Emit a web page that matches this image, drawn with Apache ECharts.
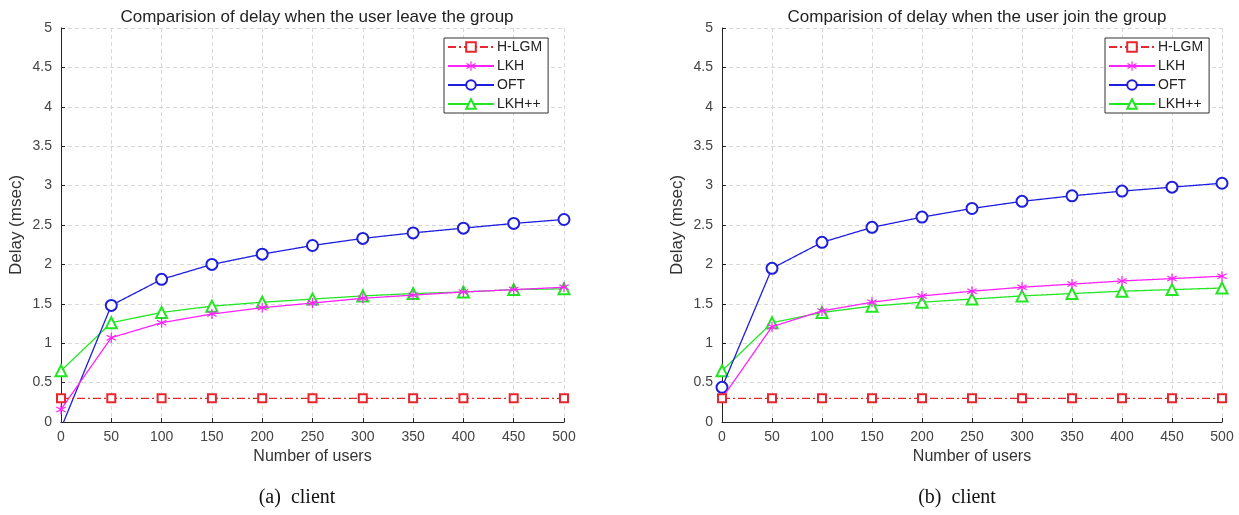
<!DOCTYPE html>
<html><head><meta charset="utf-8">
<script src="https://cdn.jsdelivr.net/npm/echarts@6/dist/echarts.min.js"></script>
<style>html,body{margin:0;padding:0;background:#fff}#c{width:1239px;height:515px}</style>
</head><body><div id="c"></div>
<script>
const users = [0,50,100,150,200,250,300,350,400,450,500];
const seriesNames = ['H-LGM','LKH','OFT','LKH++'];
// (a) user leaves the group
const leaveHLGM = [0.3,0.3,0.3,0.3,0.3,0.3,0.3,0.3,0.3,0.3,0.3];
const leaveLKH  = [0.16,1.07,1.26,1.37,1.45,1.51,1.57,1.61,1.65,1.68,1.71];
const leaveOFT  = [-0.08,1.48,1.81,2.00,2.13,2.24,2.33,2.40,2.46,2.52,2.57];
const leaveLKHpp= [0.65,1.26,1.39,1.47,1.52,1.56,1.60,1.63,1.65,1.68,1.69];
// (b) user joins the group
const joinHLGM = [0.3,0.3,0.3,0.3,0.3,0.3,0.3,0.3,0.3,0.3,0.3];
const joinLKH  = [0.30,1.21,1.41,1.52,1.60,1.66,1.71,1.75,1.79,1.82,1.85];
const joinOFT  = [0.44,1.95,2.28,2.47,2.60,2.71,2.80,2.87,2.93,2.98,3.03];
const joinLKHpp= [0.65,1.26,1.39,1.47,1.52,1.56,1.60,1.63,1.66,1.68,1.70];
const titles = ['Comparision of delay when the user leave the group','Comparision of delay when the user join the group'];
const captions = ['(a)  client','(b)  client'];
const xName = 'Number of users';
const yName = 'Delay (msec)';

const colors = ['#e8262e','#ff22ff','#1e1ee0','#22e622'];
const star = 'path://M-0.6,-5 L0.6,-5 L0.6,-1 L4.2,-3 L4.8,-2 L1.2,0 L4.8,2 L4.2,3 L0.6,1 L0.6,5 L-0.6,5 L-0.6,1 L-4.2,3 L-4.8,2 L-1.2,0 L-4.8,-2 L-4.2,-3 L-0.6,-1 Z';
const symbols = ['emptyRect', star, 'emptyCircle', 'emptyTriangle'];
const symSizes = [8, 10, 11, 11];
const lineTypes = [[8,3,2,3],[1,0],[1,0],[1,0]];
const font = 'Liberation Sans, Arial, sans-serif';

const sets = [[leaveHLGM,leaveLKH,leaveOFT,leaveLKHpp],[joinHLGM,joinLKH,joinOFT,joinLKHpp]];
const grids = [
  {left:61, right:675, top:28, bottom:93},
  {left:722, right:17, top:28, bottom:93}
];
const gridCenters = [312, 972];

const xAxis = [], yAxis = [], series = [], title = [];
grids.forEach((g,gi)=>{
  xAxis.push({type:'value', gridIndex:gi, min:0, max:500, interval:50,
    name:xName, nameLocation:'middle', nameGap:27,
    nameTextStyle:{fontFamily:font, fontSize:16, color:'#333'},
    axisLine:{show:true, onZero:false, lineStyle:{color:'#222', width:1}},
    axisTick:{show:true, inside:true, length:4, lineStyle:{color:'#222'}},
    axisLabel:{fontFamily:font, fontSize:14, color:'#444', margin:8},
    splitLine:{show:true, lineStyle:{color:'#d8d8d8', type:[4,3], width:1}}
  });
  yAxis.push({type:'value', gridIndex:gi, min:0, max:5, interval:0.5,
    name:yName, nameLocation:'middle', nameGap:36, nameRotate:90,
    nameTextStyle:{fontFamily:font, fontSize:17, color:'#333'},
    axisLine:{show:true, lineStyle:{color:'#222', width:1}},
    axisTick:{show:true, inside:true, length:4, lineStyle:{color:'#222'}},
    axisLabel:{fontFamily:font, fontSize:14, color:'#444', margin:9},
    splitLine:{show:true, lineStyle:{color:'#d8d8d8', type:[4,3], width:1}}
  });
  title.push({text:titles[gi], left:gridCenters[gi], top:4, textAlign:'center',
    textStyle:{fontFamily:font, fontSize:17, fontWeight:'normal', color:'#222'}});
  sets[gi].forEach((vals,si)=>{
    series.push({name:seriesNames[si], type:'line', xAxisIndex:gi, yAxisIndex:gi,
      data: users.map((u,i)=>[u, vals[i]]),
      symbol:symbols[si], symbolSize:symSizes[si], showAllSymbol:true, clip:true,
      color:colors[si],
      lineStyle:{color:colors[si], width:1.3, type:lineTypes[si]},
      itemStyle:{color:colors[si], borderWidth:1.3},
      animation:false, z: 10-si
    });
  });
});
const legends = [0,1].map(gi=>({
  orient:'vertical', left: gi===0?444:1105, top:38,
  data: seriesNames, backgroundColor:'#fff', borderColor:'#333', borderWidth:1,
  padding:[2,6,2,3], itemGap:5, itemWidth:46, itemHeight:12,
  textStyle:{fontFamily:font, fontSize:14, color:'#222', padding:[0,0,0,-2]},
  selectedMode:false
}));

const chart = echarts.init(document.getElementById('c'), null, {renderer:'canvas'});
chart.setOption({
  animation:false,
  backgroundColor:'#fff',
  title, grid:grids, xAxis, yAxis, series, legend:legends,
  graphic: captions.map((c,gi)=>({type:'text', x:gridCenters[gi]-15, y:488,
    style:{text:c, font:'20px "Liberation Serif", "DejaVu Serif", serif', fill:'#111', textAlign:'center'}}))
});
</script></body></html>
